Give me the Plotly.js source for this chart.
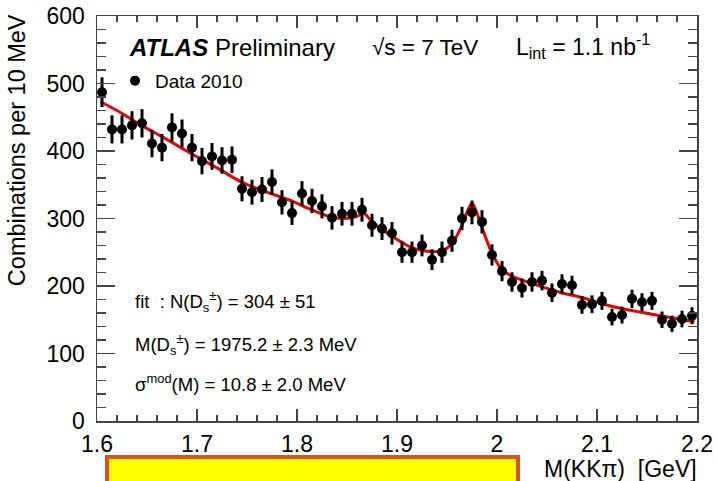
<!DOCTYPE html>
<html>
<head>
<meta charset="utf-8">
<script src="https://cdn.plot.ly/plotly-3.0.1.min.js"></script>
<style>
  html, body { margin: 0; padding: 0; background: #fff; }
  #plot { width: 717px; height: 481px; }
</style>
</head>
<body>
<div id="plot"></div>
<script>
// M(KK pi) bin centres, 10 MeV bins
const massBins = [
  1.605, 1.615, 1.625, 1.635, 1.645, 1.655, 1.665, 1.675, 1.685, 1.695,
  1.705, 1.715, 1.725, 1.735, 1.745, 1.755, 1.765, 1.775, 1.785, 1.795,
  1.805, 1.815, 1.825, 1.835, 1.845, 1.855, 1.865, 1.875, 1.885, 1.895,
  1.905, 1.915, 1.925, 1.935, 1.945, 1.955, 1.965, 1.975, 1.985, 1.995,
  2.005, 2.015, 2.025, 2.035, 2.045, 2.055, 2.065, 2.075, 2.085, 2.095,
  2.105, 2.115, 2.125, 2.135, 2.145, 2.155, 2.165, 2.175, 2.185, 2.195
];

// Combinations per bin, Data 2010
const counts = [
  487, 432, 432, 438, 441, 411, 405, 435, 426, 405,
  385, 392, 386, 387, 344, 339, 343, 354, 324, 308,
  337, 326, 318, 301, 307, 307, 313, 290, 285, 278,
  250, 250, 260, 239, 250, 267, 300, 309, 295, 246,
  222, 206, 197, 206, 208, 190, 203, 201, 172, 173,
  178, 154, 157, 181, 176, 178, 150, 144, 151, 156
];

// Fit curve (background + D+ and Ds peaks), sampled along the mass axis
const fitMass = [
  1.6035, 1.620, 1.6445, 1.670, 1.6945, 1.720, 1.7445, 1.770, 1.7945, 1.8145,
  1.8345, 1.846, 1.8545, 1.861, 1.8665, 1.8745, 1.8845, 1.8945, 1.9045, 1.9145,
  1.9245, 1.9345, 1.9445, 1.9545, 1.9645, 1.9705, 1.975, 1.9795, 1.9845, 1.9945,
  2.0045, 2.0145, 2.0245, 2.0445, 2.0645, 2.0845, 2.1145, 2.1445, 2.1745, 2.1975
];
const fitCounts = [
  473, 460, 438, 417, 396, 375, 354, 339, 326, 313,
  302, 300, 301, 304, 308, 296, 284, 274, 265, 257,
  253, 251, 252, 262, 288, 311, 323, 310, 289, 250,
  225, 215, 209, 199, 190, 183, 170, 161, 153, 147
];

const FONT = '"Liberation Sans", Arial, Helvetica, sans-serif';

const dataTrace = {
  type: 'scatter',
  mode: 'markers',
  name: 'Data 2010',
  x: massBins,
  y: counts,
  marker: { color: '#000', size: 10, symbol: 'circle' },
  error_y: { type: 'sqrt', visible: true, color: '#000', thickness: 3, width: 0 },
  cliponaxis: false
};

const fitTrace = {
  type: 'scatter',
  mode: 'lines',
  name: 'fit',
  x: fitMass,
  y: fitCounts,
  line: { color: '#e00000', width: 3, shape: 'spline', smoothing: 0.8 },
  showlegend: false,
  hoverinfo: 'skip'
};

const axisCommon = {
  showgrid: false,
  zeroline: false,
  showline: true,
  linecolor: '#444',
  linewidth: 1.5,
  mirror: 'allticks',
  ticks: 'inside',
  tickcolor: '#444',
  tickwidth: 1.5,
  tickfont: { family: FONT, size: 23, color: '#000' }
};

const layout = {
  width: 717,
  height: 481,
  margin: { l: 97, r: 20, t: 16, b: 60 },
  paper_bgcolor: '#fff',
  plot_bgcolor: '#fff',
  showlegend: true,
  legend: {
    x: 0.03, y: 0.84, xanchor: 'left', yanchor: 'middle',
    bgcolor: 'rgba(0,0,0,0)',
    font: { family: FONT, size: 19, color: '#000' },
    itemwidth: 30
  },
  xaxis: Object.assign({}, axisCommon, {
    range: [1.6, 2.2],
    dtick: 0.1,
    tick0: 1.6,
    ticklen: 12,
    ticklabelstandoff: 2,
    minor: { dtick: 0.02, ticklen: 6, ticks: 'inside', tickcolor: '#444', tickwidth: 1.5 }
  }),
  yaxis: Object.assign({}, axisCommon, {
    range: [0, 600],
    dtick: 100,
    tick0: 0,
    ticklen: 18,
    ticklabelstandoff: 6,
    minor: { dtick: 20, ticklen: 9, ticks: 'inside', tickcolor: '#444', tickwidth: 1.5 }
  }),
  shapes: [
    {
      type: 'rect', xref: 'paper', yref: 'paper',
      x0: 0.0167, x1: 0.7017, y0: -0.089, y1: -0.17,
      fillcolor: '#ffff00',
      line: { color: '#d9541e', width: 4 },
      layer: 'above'
    }
  ],
  annotations: [
    {
      text: 'M(KKπ)  [GeV]', xref: 'paper', yref: 'paper',
      x: 1.003, y: -0.118, xanchor: 'right', yanchor: 'middle',
      showarrow: false, font: { family: FONT, size: 23, color: '#000' }
    },
    {
      text: 'Combinations per 10 MeV', xref: 'paper', yref: 'paper',
      x: -0.133, y: 1.01, xanchor: 'center', yanchor: 'top', textangle: -90,
      showarrow: false, font: { family: FONT, size: 23.5, color: '#000' }
    },
    {
      text: '<b><i>ATLAS</i></b> Preliminary', xref: 'paper', yref: 'paper',
      x: 0.05, y: 0.922, xanchor: 'left', yanchor: 'middle',
      showarrow: false, font: { family: FONT, size: 24, color: '#000' }
    },
    {
      text: '√s = 7 TeV', xref: 'paper', yref: 'paper',
      x: 0.455, y: 0.922, xanchor: 'left', yanchor: 'middle',
      showarrow: false, font: { family: FONT, size: 22.5, color: '#000' }
    },
    {
      text: 'L<sub>int</sub> = 1.1 nb<sup>-1</sup>', xref: 'paper', yref: 'paper',
      x: 0.695, y: 0.925, xanchor: 'left', yanchor: 'middle',
      showarrow: false, font: { family: FONT, size: 23, color: '#000' }
    },
    {
      text: 'fit  : N(D<sub>s</sub><sup>±</sup>) = 304 ± 51', xref: 'paper', yref: 'paper',
      x: 0.06, y: 0.295, xanchor: 'left', yanchor: 'middle',
      showarrow: false, font: { family: FONT, size: 18.5, color: '#000' }
    },
    {
      text: 'M(D<sub>s</sub><sup>±</sup>) = 1975.2 ± 2.3 MeV', xref: 'paper', yref: 'paper',
      x: 0.06, y: 0.19, xanchor: 'left', yanchor: 'middle',
      showarrow: false, font: { family: FONT, size: 18.5, color: '#000' }
    },
    {
      text: 'σ<sup>mod</sup>(M) = 10.8 ± 2.0 MeV', xref: 'paper', yref: 'paper',
      x: 0.06, y: 0.095, xanchor: 'left', yanchor: 'middle',
      showarrow: false, font: { family: FONT, size: 18.5, color: '#000' }
    }
  ]
};

Plotly.newPlot('plot', [fitTrace, dataTrace], layout, { staticPlot: true, displayModeBar: false });
</script>
</body>
</html>
